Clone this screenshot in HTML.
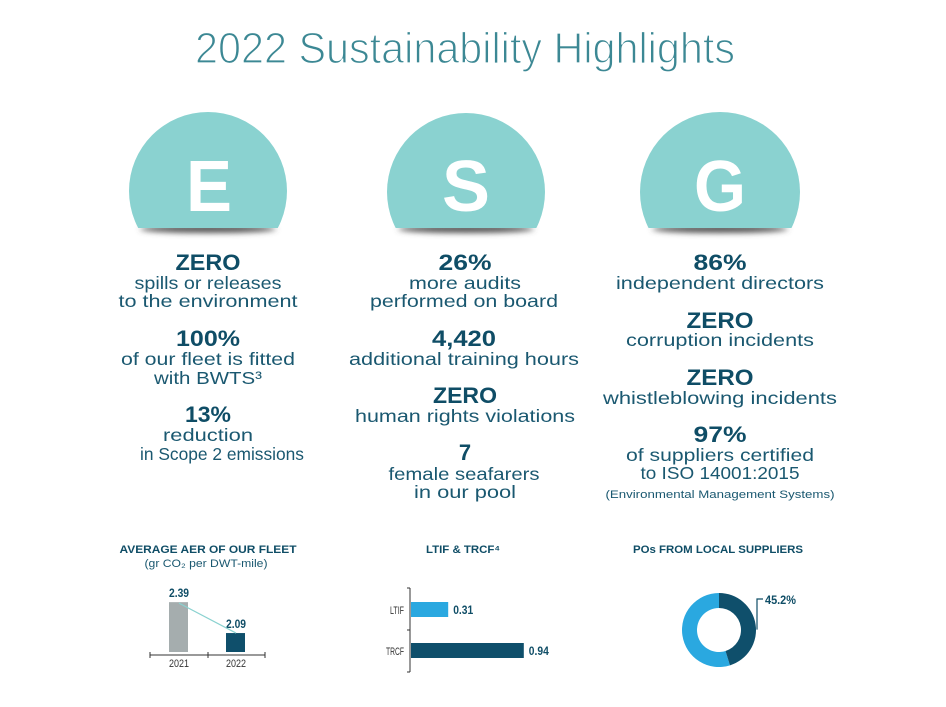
<!DOCTYPE html>
<html><head><meta charset="utf-8"><style>
html,body{margin:0;padding:0;background:#fff;}
svg{display:block;font-family:"Liberation Sans",sans-serif;}
.b{font-weight:bold;fill:#0f4d66;font-size:22px;text-anchor:middle;}
.t{fill:#1a5870;font-size:17.5px;text-anchor:middle;}
.ct{font-weight:bold;fill:#0f4d66;font-size:11px;text-anchor:middle;}
.L{font-weight:bold;fill:#fff;font-size:72px;text-anchor:middle;}
</style></head><body>
<svg id="page" width="946" height="707" viewBox="0 0 946 707">
<defs>
<filter id="sh" x="-50%" y="-200%" width="200%" height="500%"><feGaussianBlur stdDeviation="3"/></filter>
<clipPath id="cE"><rect x="100" y="100" width="220" height="128"/></clipPath>
<clipPath id="cS"><rect x="360" y="100" width="220" height="128"/></clipPath>
<clipPath id="cG"><rect x="610" y="100" width="220" height="128"/></clipPath>
</defs>
<text x="465" y="63" text-anchor="middle" font-size="44" fill="#3c8894" textLength="540" lengthAdjust="spacingAndGlyphs" stroke="#fff" stroke-width="1.3" paint-order="normal">2022 Sustainability Highlights</text>

<g>
<ellipse cx="208" cy="229" rx="68" ry="4" fill="#555" filter="url(#sh)"/>
<circle cx="208" cy="191" r="79" fill="#8ad2d0" clip-path="url(#cE)"/>
<text class="L" x="209" y="211" textLength="46" lengthAdjust="spacingAndGlyphs">E</text></g>
<g>
<ellipse cx="466" cy="229" rx="68" ry="4" fill="#555" filter="url(#sh)"/>
<circle cx="466" cy="192" r="79" fill="#8ad2d0" clip-path="url(#cS)"/>
<text class="L" x="466" y="211" textLength="48" lengthAdjust="spacingAndGlyphs">S</text></g>
<g>
<ellipse cx="720" cy="229" rx="68" ry="4" fill="#555" filter="url(#sh)"/>
<circle cx="720" cy="192" r="80" fill="#8ad2d0" clip-path="url(#cG)"/>
<text class="L" x="720" y="211" textLength="52" lengthAdjust="spacingAndGlyphs">G</text></g>

<g>
<text class="b" x="208" y="270" textLength="65" lengthAdjust="spacingAndGlyphs">ZERO</text>
<text class="t" x="208" y="289" textLength="147" lengthAdjust="spacingAndGlyphs">spills or releases</text>
<text class="t" x="208" y="307" textLength="179" lengthAdjust="spacingAndGlyphs">to the environment</text>
<text class="b" x="208" y="346" textLength="64" lengthAdjust="spacingAndGlyphs">100%</text>
<text class="t" x="208" y="365" textLength="174" lengthAdjust="spacingAndGlyphs">of our fleet is fitted</text>
<text class="t" x="208" y="384" textLength="108" lengthAdjust="spacingAndGlyphs">with BWTS³</text>
<text class="b" x="208" y="422" textLength="46" lengthAdjust="spacingAndGlyphs">13%</text>
<text class="t" x="208" y="441" textLength="90" lengthAdjust="spacingAndGlyphs">reduction</text>
<text class="t" x="222" y="460" textLength="164" lengthAdjust="spacingAndGlyphs">in Scope 2 emissions</text>
</g>
<g>
<text class="b" x="465" y="270" textLength="53" lengthAdjust="spacingAndGlyphs">26%</text>
<text class="t" x="465" y="289" textLength="112" lengthAdjust="spacingAndGlyphs">more audits</text>
<text class="t" x="464" y="307" textLength="188" lengthAdjust="spacingAndGlyphs">performed on board</text>
<text class="b" x="464" y="346" textLength="64" lengthAdjust="spacingAndGlyphs">4,420</text>
<text class="t" x="464" y="365" textLength="230" lengthAdjust="spacingAndGlyphs">additional training hours</text>
<text class="b" x="465" y="403" textLength="64" lengthAdjust="spacingAndGlyphs">ZERO</text>
<text class="t" x="465" y="422" textLength="220" lengthAdjust="spacingAndGlyphs">human rights violations</text>
<text class="b" x="465" y="460">7</text>
<text class="t" x="464" y="480" textLength="151" lengthAdjust="spacingAndGlyphs">female seafarers</text>
<text class="t" x="465" y="498" textLength="102" lengthAdjust="spacingAndGlyphs">in our pool</text>
</g>
<g>
<text class="b" x="720" y="270" textLength="53" lengthAdjust="spacingAndGlyphs">86%</text>
<text class="t" x="720" y="289" textLength="208" lengthAdjust="spacingAndGlyphs">independent directors</text>
<text class="b" x="720" y="328" textLength="67" lengthAdjust="spacingAndGlyphs">ZERO</text>
<text class="t" x="720" y="346" textLength="188" lengthAdjust="spacingAndGlyphs">corruption incidents</text>
<text class="b" x="720" y="385" textLength="67" lengthAdjust="spacingAndGlyphs">ZERO</text>
<text class="t" x="720" y="404" textLength="234" lengthAdjust="spacingAndGlyphs">whistleblowing incidents</text>
<text class="b" x="720" y="442" textLength="53" lengthAdjust="spacingAndGlyphs">97%</text>
<text class="t" x="720" y="461" textLength="188" lengthAdjust="spacingAndGlyphs">of suppliers certified</text>
<text class="t" x="720" y="479" textLength="159" lengthAdjust="spacingAndGlyphs">to ISO 14001:2015</text>
<text x="720" y="498" text-anchor="middle" font-size="11" fill="#1a5870" textLength="229" lengthAdjust="spacingAndGlyphs">(Environmental Management Systems)</text>
</g>

<text class="ct" x="208" y="553" textLength="177" lengthAdjust="spacingAndGlyphs">AVERAGE AER OF OUR FLEET</text>
<text x="206" y="567" text-anchor="middle" font-size="11" fill="#1a5870" textLength="123" lengthAdjust="spacingAndGlyphs">(gr CO₂ per DWT-mile)</text>
<text class="ct" x="463" y="553" textLength="74" lengthAdjust="spacingAndGlyphs">LTIF &amp; TRCF⁴</text>
<text class="ct" x="718" y="553" textLength="170" lengthAdjust="spacingAndGlyphs">POs FROM LOCAL SUPPLIERS</text>
<g id="aer"></g><g id="ltif"></g><g id="donut"></g>
</svg>
<script>
const aerYears = ["2021", "2022"];
const aerValues = [2.39, 2.09];
const aerLabels = ["2.39", "2.09"];
const injuryCats = ["LTIF", "TRCF"];
const injuryValues = [0.31, 0.94];
const injuryLabels = ["0.31", "0.94"];
const localShare = [45.2];
const localLabel = ["45.2%"];

const NS = "http://www.w3.org/2000/svg";
function mk(parent, tag, attrs, text){const e=document.createElementNS(NS,tag);for(const k in attrs)e.setAttribute(k,attrs[k]);if(text!==undefined)e.textContent=text;parent.appendChild(e);return e;}

// AER chart
const aer = document.getElementById('aer');
const aerBase = 655, aerMin = 1.906, aerScale = 103;
const aerY = v => aerBase - 3 - (v - aerMin) * aerScale;
const aerX = i => 179 + i * 57;
const aerColors = ["#a5adae", "#0f4f6b"];
const ax = mk(aer,'line',{x1:150,y1:aerBase,x2:265,y2:aerBase,stroke:'#333','stroke-width':1});


[150,208,265].forEach(x=>{const t=mk(aer,'line',{x1:x,y1:aerBase-3,x2:x,y2:aerBase+3,stroke:'#333'});

});
const pts=[];
aerValues.forEach((v,i)=>{
  const y=aerY(v), cx=aerX(i);
  const r=mk(aer,'rect',{x:cx-10,y:y,width:19,height:aerBase-3-y,fill:aerColors[i]});
  
  
  const l=mk(aer,'text',{x:cx,y:y-5,'text-anchor':'middle','font-size':12,'font-weight':'bold',fill:'#0f4d66',textLength:20,lengthAdjust:'spacingAndGlyphs'},aerLabels[i]);
  
  
  const c=mk(aer,'text',{x:cx,y:aerBase+12,'text-anchor':'middle','font-size':11,fill:'#333',textLength:20,lengthAdjust:'spacingAndGlyphs'},aerYears[i]);
  
  
  pts.push([cx,y]);
});
const tl=mk(aer,'line',{x1:pts[0][0],y1:pts[0][1]+1,x2:pts[1][0],y2:pts[1][1],stroke:'#8ad2d0','stroke-width':1.2});



// LTIF chart
const lt = document.getElementById('ltif');
const ltX0 = 410, ltScale = 120;
const ltBarY = i => 602 + i * 41;
const ltColors = ["#2aa8e0","#0f4f6b"];
const la=mk(lt,'line',{x1:ltX0,y1:588,x2:ltX0,y2:672,stroke:'#333'});


[588,630,672].forEach(y=>{const t=mk(lt,'line',{x1:ltX0-3,y1:y,x2:ltX0,y2:y,stroke:'#333'});

});
injuryValues.forEach((v,i)=>{
  const y=ltBarY(i), w=v*ltScale;
  const r=mk(lt,'rect',{x:ltX0+1,y:y,width:w,height:15,fill:ltColors[i]});
  
  
  const c=mk(lt,'text',{x:ltX0-6,y:y+12,'text-anchor':'end','font-size':11,fill:'#333',textLength:i?18:14,lengthAdjust:'spacingAndGlyphs'},injuryCats[i]);
  
  
  const l=mk(lt,'text',{x:ltX0+w+6,y:y+12,'font-size':12,'font-weight':'bold',fill:'#0f4d66',textLength:20,lengthAdjust:'spacingAndGlyphs'},injuryLabels[i]);
  
  
});

// Donut
const dn = document.getElementById('donut');
const dcx=719, dcy=630, R=37, r0=22;
function arc(a0,a1){const p=(a,rr)=>[dcx+rr*Math.sin(a),dcy-rr*Math.cos(a)];const lg=(a1-a0)>Math.PI?1:0;
 const A=p(a0,R),B=p(a1,R),C=p(a1,r0),D=p(a0,r0);
 return `M${A[0]},${A[1]} A${R},${R} 0 ${lg} 1 ${B[0]},${B[1]} L${C[0]},${C[1]} A${r0},${r0} 0 ${lg} 0 ${D[0]},${D[1]}Z`;}
const ang = localShare[0]/100*2*Math.PI;
const s1=mk(dn,'path',{d:arc(ang,2*Math.PI-0.0001),fill:'#2aa8e0'});


const s2=mk(dn,'path',{d:arc(0,ang),fill:'#0f4f6b'});


const la2 = ang*0.55;
const lx=dcx+(R+1)*Math.sin(la2), ly=dcy-(R+1)*Math.cos(la2);
const ld=mk(dn,'polyline',{points:`${lx},${ly} ${lx},${dcy-31} ${lx+6},${dcy-31}`,fill:'none',stroke:'#0f4d66','stroke-width':1.2});


const dl=mk(dn,'text',{x:lx+8,y:dcy-26,'font-size':12,'font-weight':'bold',fill:'#0f4d66',textLength:31,lengthAdjust:'spacingAndGlyphs'},localLabel[0]);


</script>
</body></html>
